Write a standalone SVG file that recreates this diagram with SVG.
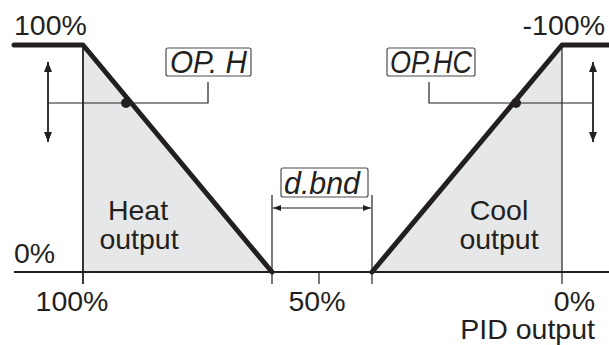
<svg xmlns="http://www.w3.org/2000/svg" width="609" height="345" viewBox="0 0 609 345">
<defs>
<marker id="ah" viewBox="0 0 10 8" refX="10" refY="4" markerWidth="10" markerHeight="8" markerUnits="userSpaceOnUse" orient="auto-start-reverse">
<path d="M0,0 L10,4 L0,8 Z" fill="#231f20"/>
</marker>
<marker id="as" viewBox="0 0 8 6" refX="8" refY="3" markerWidth="8" markerHeight="6" markerUnits="userSpaceOnUse" orient="auto-start-reverse">
<path d="M0,0 L8,3 L0,6 Z" fill="#231f20"/>
</marker>
<style>
.lbl{font-family:"Liberation Sans",Arial,sans-serif;font-size:28.5px;fill:#231f20}
.seg{font-family:"Liberation Sans Narrow","Liberation Sans",sans-serif;font-style:italic;font-weight:300;font-size:31px;fill:#231f20}
.box{fill:#fff;stroke:#4d4d4f;stroke-width:1.2}
.thin{stroke:#231f20;stroke-width:1.2;fill:none}
.thick{stroke:#231f20;stroke-width:5;fill:none;stroke-linecap:round;stroke-linejoin:round}
.area{fill:#e6e7e8}
</style>
</defs>
<rect width="609" height="345" fill="#fff"/>
<g id="areas">
<polygon class="area" points="83,45 272,272 83,272"/>
<polygon class="area" points="562,45 562,272 372,272"/>
</g>
<g id="connectors">
<line x1="14" y1="272" x2="609" y2="272" stroke="#231f20" stroke-width="2"/>
<line x1="83" y1="45" x2="83" y2="284" stroke="#231f20" stroke-width="1.8"/>
<line x1="562" y1="45" x2="562" y2="284" class="thin"/>
<line x1="319" y1="272" x2="319" y2="284" class="thin"/>
<line x1="272" y1="195" x2="272" y2="284" class="thin"/>
<line x1="372" y1="195" x2="372" y2="284" class="thin"/>
<line x1="273" y1="208" x2="371" y2="208" class="thin" marker-start="url(#as)" marker-end="url(#as)"/>
<line x1="48" y1="62" x2="48" y2="142" stroke="#231f20" stroke-width="1.8" marker-start="url(#ah)" marker-end="url(#ah)"/>
<polyline class="thin" points="48,103 208,103 208,82"/>
<line x1="593" y1="62" x2="593" y2="142" stroke="#231f20" stroke-width="1.8" marker-start="url(#ah)" marker-end="url(#ah)"/>
<polyline class="thin" points="593,103 429,103 429,82"/>
<polyline class="thick" points="14,45 83,45 272,272"/>
<polyline class="thick" points="372,272 562,45 609,45"/>
<circle cx="126" cy="103" r="5" fill="#231f20"/>
<circle cx="516" cy="103" r="5" fill="#231f20"/>
</g>
<g id="op-h">
<rect class="box" x="166" y="48" width="85" height="28" rx="2"/>
<text class="seg" x="170" y="73" textLength="77" lengthAdjust="spacingAndGlyphs">OP. H</text>
</g>
<g id="op-hc">
<rect class="box" x="387" y="48" width="88" height="28" rx="2"/>
<text class="seg" x="390" y="73" textLength="82" lengthAdjust="spacingAndGlyphs">OP.HC</text>
</g>
<g id="dbnd">
<rect class="box" x="281" y="168" width="87" height="29" rx="2"/>
<text class="seg" x="284" y="194" textLength="76" lengthAdjust="spacingAndGlyphs">d.bnd</text>
</g>
<g id="labels">
<text class="lbl" x="14" y="35">100%</text>
<text class="lbl" x="605" y="35" text-anchor="end">-100%</text>
<text class="lbl" x="14" y="263">0%</text>
<text class="lbl" x="138" y="220" text-anchor="middle">Heat</text>
<text class="lbl" x="139" y="249" text-anchor="middle">output</text>
<text class="lbl" x="499" y="220" text-anchor="middle">Cool</text>
<text class="lbl" x="499" y="249" text-anchor="middle">output</text>
<text class="lbl" x="72" y="311" text-anchor="middle">100%</text>
<text class="lbl" x="317" y="311" text-anchor="middle">50%</text>
<text class="lbl" x="595" y="311" text-anchor="end">0%</text>
<text class="lbl" x="595" y="339" text-anchor="end">PID output</text>
</g>
</svg>
